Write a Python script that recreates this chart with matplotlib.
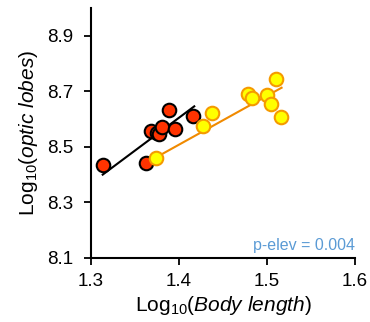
import numpy as np
import matplotlib.pyplot as plt

plt.rcParams['font.family'] = ['Liberation Sans', 'DejaVu Sans']
plt.rcParams['mathtext.fontset'] = 'custom'
plt.rcParams['mathtext.rm'] = 'Liberation Sans'
plt.rcParams['mathtext.it'] = 'Liberation Sans:italic'

# group 1 (red)
red_x = [1.314, 1.3625, 1.3686, 1.3746, 1.3773, 1.381, 1.3886, 1.3955, 1.4163]
red_y = [8.434, 8.442, 8.556, 8.551, 8.548, 8.571, 8.631, 8.563, 8.611]

# group 2 (yellow)
yel_x = [1.3739, 1.4276, 1.4378, 1.4788, 1.4833, 1.5004, 1.5045, 1.5099, 1.5156]
yel_y = [8.460, 8.574, 8.623, 8.691, 8.675, 8.688, 8.655, 8.746, 8.607]

# fitted lines (end points)
red_fit_x = [1.3133, 1.4174]
red_fit_y = [8.400, 8.646]
yel_fit_x = [1.3739, 1.5167]
yel_fit_y = [8.462, 8.713]

x_ticks = [1.3, 1.4, 1.5, 1.6]
y_ticks = [8.1, 8.3, 8.5, 8.7, 8.9]

fig = plt.figure(figsize=(3.7, 3.22), dpi=100)
ax = fig.add_axes([0.246, 0.199, 0.713, 0.776])

ax.plot(red_fit_x, red_fit_y, color='black', lw=1.5, zorder=2)
ax.plot(yel_fit_x, yel_fit_y, color='#F08A00', lw=1.5, zorder=2)
ax.scatter(red_x, red_y, s=95, color='#FF3300', edgecolors='black', linewidths=1.5, zorder=3)
ax.scatter(yel_x, yel_y, s=95, color='#FFFF00', edgecolors='#F59A00', linewidths=1.5, zorder=3)

ax.set_xlim(1.3, 1.6)
ax.set_ylim(8.1, 9.0)
ax.set_xticks(x_ticks)
ax.set_yticks(y_ticks)
ax.set_xticklabels([f'{v:.1f}' for v in x_ticks])
ax.set_yticklabels([f'{v:.1f}' for v in y_ticks])
ax.tick_params(direction='out', length=5, width=1.3, labelsize=13.5, colors='black')
ax.tick_params(axis='y', pad=8)
ax.tick_params(axis='x', pad=6)
for s in ['top', 'right']:
    ax.spines[s].set_visible(False)
for s in ['left', 'bottom']:
    ax.spines[s].set_linewidth(1.5)

ax.set_xlabel(r'Log$_{10}$($\it{Body\ length}$)', fontsize=15, labelpad=3)
ax.set_ylabel(r'Log$_{10}$($\it{optic\ lobes}$)', fontsize=15, labelpad=5)

ax.text(1.6, 8.145, 'p-elev = 0.004', color='#5B9BD5', fontsize=11.5, ha='right', va='center')

fig.savefig('out.png', dpi=100)
